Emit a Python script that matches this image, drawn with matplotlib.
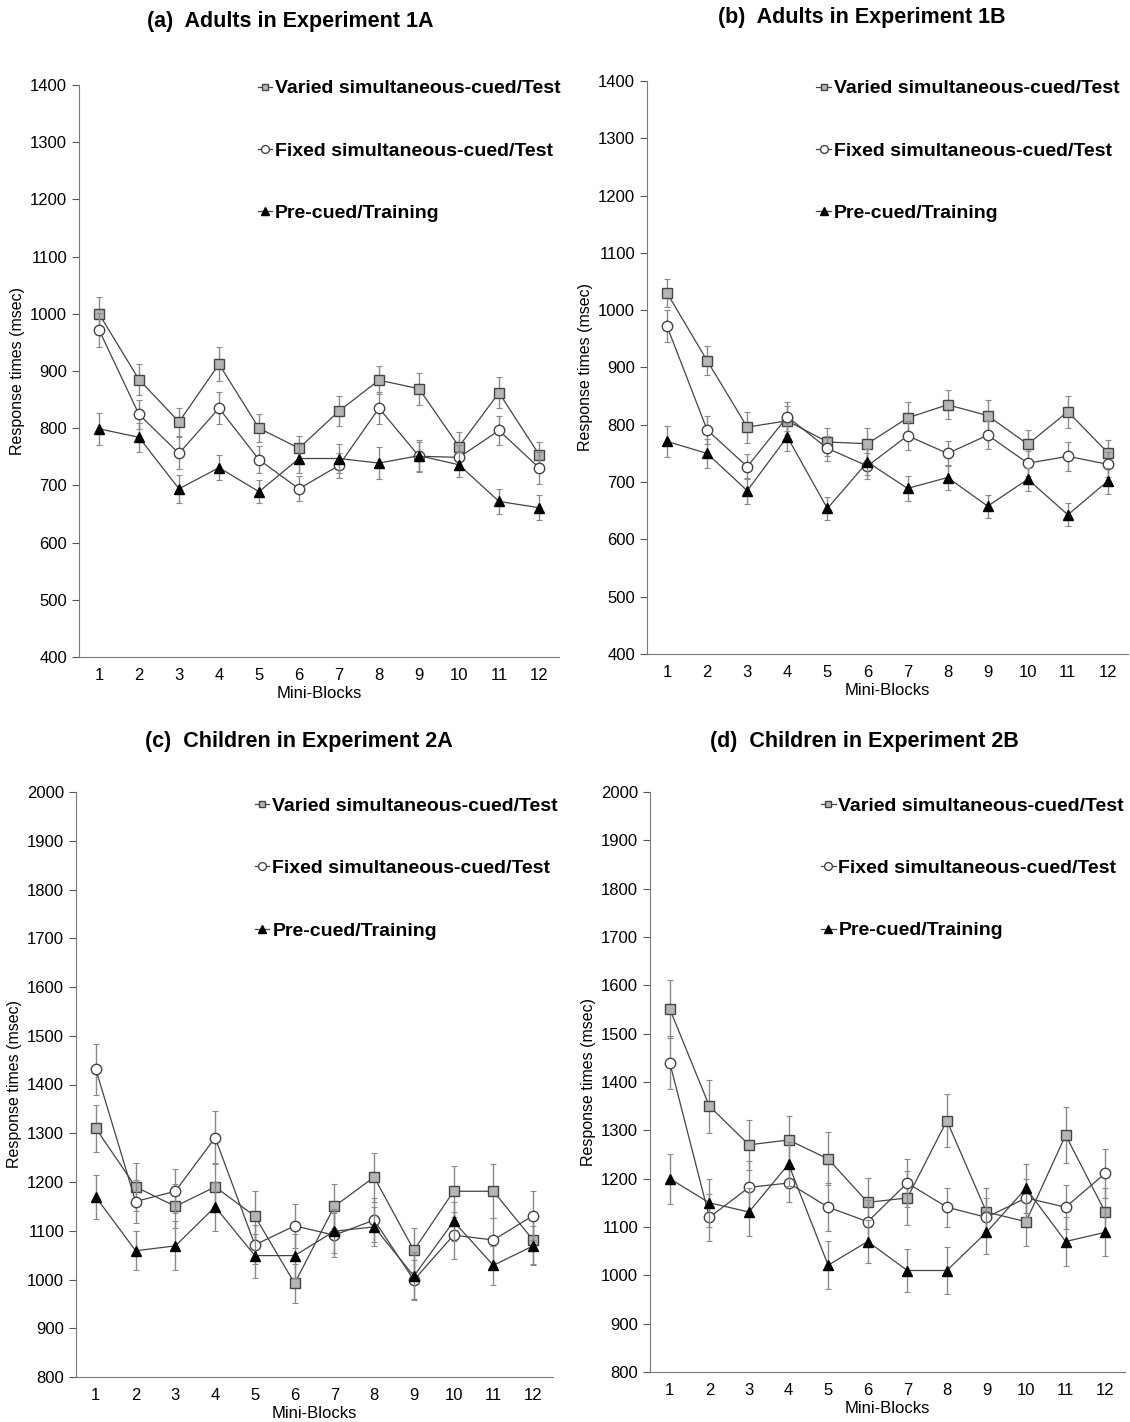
import numpy as np
import matplotlib
matplotlib.use("Agg")
import matplotlib.pyplot as plt

plt.rcParams['font.family'] = ['Liberation Sans', 'DejaVu Sans']

blocks = np.arange(1, 13)
labels = ['Varied simultaneous-cued/Test', 'Fixed simultaneous-cued/Test', 'Pre-cued/Training']
titles = ['(a)  Adults in Experiment 1A', '(b)  Adults in Experiment 1B',
          '(c)  Children in Experiment 2A', '(d)  Children in Experiment 2B']

# panel a
a_varied = [1000, 885, 811, 912, 800, 765, 830, 884, 869, 768, 862, 754]
a_fixed = [972, 824, 756, 835, 745, 694, 735, 835, 751, 749, 796, 731]
a_pre = [799, 784, 694, 731, 689, 747, 747, 739, 752, 736, 672, 661]
a_varied_err = [30, 27, 25, 30, 25, 22, 27, 25, 28, 25, 27, 22]
a_fixed_err = [30, 26, 28, 28, 24, 22, 22, 28, 25, 22, 26, 28]
a_pre_err = [28, 25, 25, 22, 20, 25, 25, 28, 28, 22, 22, 22]

# panel b
b_varied = [1030, 912, 796, 807, 770, 767, 812, 835, 816, 766, 823, 751]
b_fixed = [972, 791, 727, 814, 759, 728, 781, 750, 782, 733, 745, 731]
b_pre = [771, 750, 685, 779, 654, 735, 689, 708, 658, 705, 643, 702]
b_varied_err = [25, 25, 27, 25, 25, 28, 28, 25, 27, 25, 28, 22]
b_fixed_err = [28, 25, 22, 25, 22, 22, 25, 22, 25, 22, 25, 22]
b_pre_err = [27, 25, 23, 25, 20, 22, 22, 22, 20, 20, 20, 22]

# panel c
c_varied = [1310, 1190, 1150, 1190, 1130, 992, 1150, 1210, 1060, 1181, 1181, 1081]
c_fixed = [1431, 1160, 1181, 1291, 1071, 1110, 1091, 1122, 999, 1091, 1081, 1131]
c_pre = [1169, 1059, 1069, 1149, 1049, 1049, 1099, 1108, 1007, 1119, 1029, 1069]
c_varied_err = [48, 50, 45, 50, 52, 40, 45, 50, 45, 52, 55, 50]
c_fixed_err = [52, 45, 45, 55, 40, 45, 45, 45, 40, 48, 45, 50]
c_pre_err = [45, 40, 50, 50, 45, 45, 45, 40, 50, 40, 40, 40]

# panel d
d_varied = [1551, 1350, 1270, 1280, 1241, 1151, 1160, 1320, 1131, 1111, 1290, 1131]
d_fixed = [1440, 1120, 1182, 1191, 1141, 1111, 1191, 1141, 1120, 1160, 1141, 1211]
d_pre = [1200, 1150, 1131, 1230, 1021, 1070, 1010, 1010, 1089, 1180, 1070, 1089]
d_varied_err = [60, 55, 52, 50, 55, 50, 55, 55, 50, 50, 58, 50]
d_fixed_err = [55, 48, 55, 40, 50, 45, 50, 40, 40, 40, 45, 50]
d_pre_err = [52, 50, 50, 45, 50, 45, 45, 48, 45, 50, 50, 50]

panels = [
    (a_varied, a_fixed, a_pre, a_varied_err, a_fixed_err, a_pre_err, (400, 1400)),
    (b_varied, b_fixed, b_pre, b_varied_err, b_fixed_err, b_pre_err, (400, 1400)),
    (c_varied, c_fixed, c_pre, c_varied_err, c_fixed_err, c_pre_err, (800, 2000)),
    (d_varied, d_fixed, d_pre, d_varied_err, d_fixed_err, d_pre_err, (800, 2000)),
]

W, H = 1130, 1422
# axes boxes in pixels: left, right, top, bottom
boxes = [(79, 559, 85, 657), (647, 1128, 81, 654), (76, 553, 792, 1377), (650, 1125, 792, 1372)]
title_pos = [(290, 22), (862, 18), (299, 741), (864, 741)]
leg_anchor = [(0.372, 1.009), (0.352, 1.002), (0.375, 0.991), (0.36, 0.991)]

fig = plt.figure(figsize=(W / 100, H / 100), dpi=100)

styles = [
    dict(marker='s', markerfacecolor='#b5b5b5', markeredgecolor='#444444', markersize=6.5),
    dict(marker='o', markerfacecolor='white', markeredgecolor='#444444', markersize=7.5),
    dict(marker='^', markerfacecolor='black', markeredgecolor='black', markersize=7.5),
]

for i, p in enumerate(panels):
    l, r, t, b = boxes[i]
    ax = fig.add_axes([l / W, 1 - b / H, (r - l) / W, (b - t) / H])
    series = p[:3]
    errs = p[3:6]
    ylo, yhi = p[6]
    for s, e, st, lab in zip(series, errs, styles, labels):
        ax.errorbar(blocks, s, yerr=e, fmt='none', ecolor='#8a8a8a', elinewidth=1,
                    capsize=2, capthick=0.8)
        ax.plot(blocks, s, color='#444444', linewidth=0.9, label=lab, **st)
    ax.set_xlim(0.5, 12.5)
    ax.set_ylim(ylo, yhi)
    ax.set_yticks(np.arange(ylo, yhi + 1, 100))
    ax.set_xticks(blocks)
    ax.tick_params(axis='x', length=0, labelsize=12, pad=8)
    ax.tick_params(axis='y', length=5, color='#555555', labelsize=12, direction='out')
    for sp in ['top', 'right']:
        ax.spines[sp].set_visible(False)
    for sp in ['left', 'bottom']:
        ax.spines[sp].set_color('#777777')
    ax.set_ylabel('Response times (msec)', fontsize=11.5, labelpad=4)
    ax.set_xlabel('Mini-Blocks', fontsize=12, labelpad=2)
    ax.legend(loc='upper left', bbox_to_anchor=leg_anchor[i], frameon=False,
              labelspacing=2.3, handlelength=0.75, handletextpad=0.15, markerscale=0.75,
              borderaxespad=0, borderpad=0, prop={'weight': 'bold', 'size': 14})
    tx, ty = title_pos[i]
    fig.text(tx / W, 1 - ty / H, titles[i], ha='center', va='center',
             fontsize=15.5, fontweight='bold')

fig.savefig('out.png', dpi=100)
